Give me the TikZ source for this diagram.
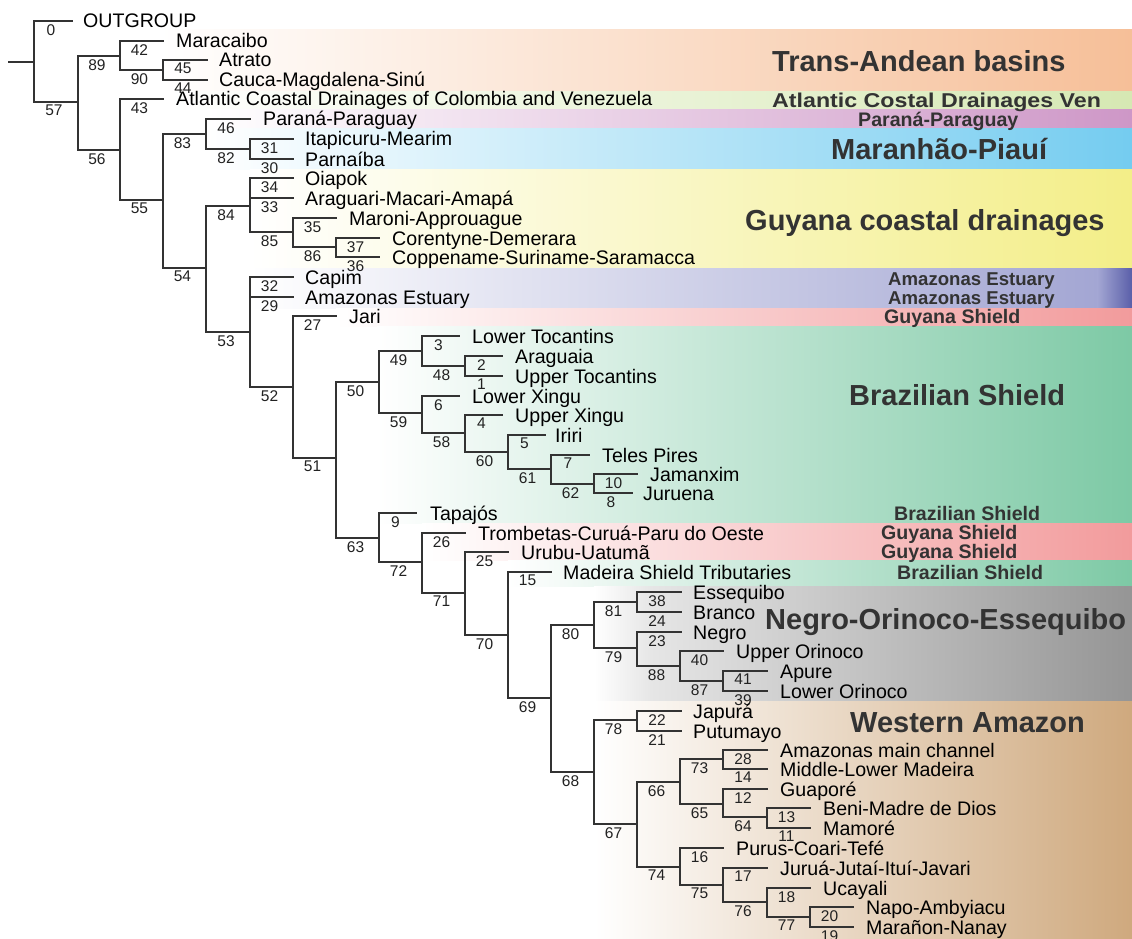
\documentclass[tikz,border=0pt]{standalone}
\usepackage{fontspec}
\setmainfont{Liberation Sans}
\usepackage{graphicx}

\definecolor{treeline}{HTML}{333333}
\definecolor{numtext}{HTML}{222222}
\definecolor{grptext}{HTML}{333333}
\definecolor{cTrans}{HTML}{F6BF98}
\definecolor{cAtl}{HTML}{D6E8B3}
\definecolor{cPara}{HTML}{CE97C7}
\definecolor{cMara}{HTML}{74CCF0}
\definecolor{cGuy}{HTML}{F3EE88}
\definecolor{cAmz}{HTML}{A3A6D3}
\definecolor{cAmzEdge}{HTML}{5A5FA9}
\definecolor{cGS}{HTML}{F29B9C}
\definecolor{cBS}{HTML}{7DC9A5}
\definecolor{cNOEa}{HTML}{E6E6E6}
\definecolor{cNOE}{HTML}{959595}
\definecolor{cWA}{HTML}{CFA97E}

% terminal branch: [gap]{parent}{name}{x,y}{support}{label}
\newcommand\leafbr[6][12.5]{%
  \coordinate (#3) at (#4);
  \draw[br] (#2 |- #3) -- node[num] (#3-n) {#5} (#3);
  \node[tiplab] (#3-t) at ([xshift=#1pt,yshift=-7pt]#3) {#6};
}
% internal branch: {parent}{name}{x,y}{support}
\newcommand\cladebr[4]{%
  \coordinate (#2) at (#3);
  \draw[br] (#1 |- #2) -- node[num] (#2-n) {#4} (#2);
}
% vertical bar joining the first and last child of a node
\newcommand\joinbar[3]{\draw[br] (#1 |- #2) -- (#1 |- #3);}

\begin{document}
\begin{tikzpicture}[x=1pt,y=-1pt,
  br/.style={draw=treeline,line width=1.4pt,line cap=rect},
  num/.style={font=\fontsize{15.5}{16}\selectfont,text=numtext,inner sep=0pt,
    anchor=north,xshift=-2pt,yshift=-2.5pt},
  tiplab/.style={font=\fontsize{19.6}{21}\selectfont,text=black,inner sep=0pt,anchor=base west},
  grpbig/.style={font=\fontsize{29}{30}\selectfont\bfseries,text=grptext,inner sep=0pt,anchor=base west},
  grpsmall/.style={font=\fontsize{19.6}{21}\selectfont\bfseries,text=grptext,inner sep=0pt,anchor=base west},
  grpam/.style={font=\fontsize{18.6}{20}\selectfont\bfseries,text=grptext,inner sep=0pt,anchor=base west}]

\useasboundingbox (0,0) rectangle (1132,939);
\fill[white] (0,0) rectangle (1132,939);

% ---- region bands ----
\shade[left color=white,right color=cTrans] (160,30) rectangle (1132,92);
\shade[left color=white,right color=cAtl] (163,92) rectangle (1132,110);
\shade[left color=white,right color=cPara] (207,110) rectangle (1132,129);
\shade[left color=white,right color=cMara] (207,129) rectangle (1132,169);
\shade[left color=white,right color=cGuy] (250,169) rectangle (1132,268);
\shade[left color=white,right color=cAmz] (250,268) rectangle (1098,308);
\shade[left color=cAmz,right color=cAmzEdge] (1097.5,268) rectangle (1132,308);
\shade[left color=white,right color=cGS] (336,308) rectangle (1132,326);
\shade[left color=white,right color=cBS] (377,326) rectangle (1132,523);
\shade[left color=white,right color=cGS] (422,523) rectangle (1132,560);
\shade[left color=white,right color=cBS] (508,560) rectangle (1132,586);
\shade[left color=white,right color=cNOEa] (594,586) rectangle (650.5,701);
\shade[left color=cNOEa,right color=cNOE] (650,586) rectangle (1132,701);
\shade[left color=white,right color=cWA] (594,701) rectangle (1132,939);

% ---- region labels ----
\node[grpbig] (g-trans) at (772,72) {Trans-Andean basins};
\node[grpsmall,font=\fontsize{20}{21}\selectfont\bfseries] (g-atl) at (772,107.5)
  {\scalebox{1.16}[1]{Atlantic Costal Drainages Ven}};
\node[grpsmall] (g-para) at (858,127) {Paraná-Paraguay};
\node[grpbig] (g-mara) at (831,159) {Maranhão-Piauí};
\node[grpbig] (g-guy) at (745,230) {Guyana coastal drainages};
\node[grpam] (g-ae1) at (888,285) {Amazonas Estuary};
\node[grpam] (g-ae2) at (888,304.5) {Amazonas Estuary};
\node[grpsmall] (g-gs1) at (884,323.5) {Guyana Shield};
\node[grpbig] (g-bs1) at (849,405) {Brazilian Shield};
\node[grpsmall] (g-bs2) at (894,520) {Brazilian Shield};
\node[grpsmall] (g-gs2) at (881,539.5) {Guyana Shield};
\node[grpsmall] (g-gs3) at (881,558.5) {Guyana Shield};
\node[grpsmall] (g-bs3) at (897,579) {Brazilian Shield};
\node[grpbig] (g-noe) at (765,629) {Negro-Orinoco-Essequibo};
\node[grpbig] (g-wa) at (850,732) {Western Amazon};

% ---- tree ----
\coordinate (stem) at (9,62);
\coordinate (root) at (34,62);
\draw[br] (stem) -- (root);
\leafbr[11]{root}{outg}{72,21}{0}{OUTGROUP}
\cladebr{root}{n57}{78,102}{57}
\joinbar{root}{outg}{n57}

\cladebr{n57}{n89}{120,56}{89}
\cladebr{n57}{n56}{120,150}{56}
\joinbar{n57}{n89}{n56}
\leafbr[13]{n89}{mara}{163,41}{42}{Maracaibo}
\cladebr{n89}{n90}{163,70}{90}
\joinbar{n89}{mara}{n90}
\leafbr[12]{n90}{atra}{207,60}{45}{Atrato}
\leafbr[12]{n90}{cauc}{207,80}{44}{Cauca-Magdalena-Sinú}
\joinbar{n90}{atra}{cauc}

\leafbr[13]{n56}{atla}{163,99}{43}{Atlantic Coastal Drainages of Colombia and Venezuela}
\cladebr{n56}{n55}{163,200}{55}
\joinbar{n56}{atla}{n55}
\cladebr{n55}{n83}{206,134}{83}
\cladebr{n55}{n54}{206,268}{54}
\joinbar{n55}{n83}{n54}
\leafbr[13]{n83}{papa}{250,119}{46}{Paraná-Paraguay}
\cladebr{n83}{n82}{250,149}{82}
\joinbar{n83}{papa}{n82}
\leafbr[12]{n82}{itap}{293,139}{31}{Itapicuru-Mearim}
\leafbr[12]{n82}{parn}{293,159}{30}{Parnaíba}
\joinbar{n82}{itap}{parn}

\cladebr{n54}{n84}{250,206}{84}
\cladebr{n54}{n53}{250,332}{53}
\joinbar{n54}{n84}{n53}
\leafbr[12]{n84}{oiap}{293,178}{34}{Oiapok}
\leafbr[12]{n84}{arag}{293,198}{33}{Araguari-Macari-Amapá}
\cladebr{n84}{n85}{293,232}{85}
\joinbar{n84}{oiap}{n85}
\leafbr[13]{n85}{maro}{336,218}{35}{Maroni-Approuague}
\cladebr{n85}{n86}{336,247}{86}
\joinbar{n85}{maro}{n86}
\leafbr[13]{n86}{core}{379,238}{37}{Corentyne-Demerara}
\leafbr[13]{n86}{copp}{379,257}{36}{Coppename-Suriname-Saramacca}
\joinbar{n86}{core}{copp}

\leafbr[12]{n53}{capi}{293,277}{32}{Capim}
\leafbr[12]{n53}{amze}{293,297}{29}{Amazonas Estuary}
\cladebr{n53}{n52}{293,387}{52}
\joinbar{n53}{capi}{n52}
\leafbr[13]{n52}{jari}{336,316}{27}{Jari}
\cladebr{n52}{n51}{336,458}{51}
\joinbar{n52}{jari}{n51}
\cladebr{n51}{n50}{379,382}{50}
\cladebr{n51}{n63}{379,538}{63}
\joinbar{n51}{n50}{n63}

\cladebr{n50}{n49}{422,351}{49}
\cladebr{n50}{n59}{422,413}{59}
\joinbar{n50}{n49}{n59}
\leafbr[13]{n49}{ltoc}{459,336}{3}{Lower Tocantins}
\cladebr{n49}{n48}{465,366}{48}
\joinbar{n49}{ltoc}{n48}
\leafbr[13]{n48}{arga}{502,356}{2}{Araguaia}
\leafbr[13]{n48}{utoc}{502,376}{1}{Upper Tocantins}
\joinbar{n48}{arga}{utoc}
\leafbr[13]{n59}{lxin}{459,396}{6}{Lower Xingu}
\cladebr{n59}{n58}{465,433}{58}
\joinbar{n59}{lxin}{n58}
\leafbr[13]{n58}{uxin}{502,415}{4}{Upper Xingu}
\cladebr{n58}{n60}{508,452}{60}
\joinbar{n58}{uxin}{n60}
\leafbr[10]{n60}{irir}{545,435}{5}{Iriri}
\cladebr{n60}{n61}{551,469}{61}
\joinbar{n60}{irir}{n61}
\leafbr[13]{n61}{tele}{589,455}{7}{Teles Pires}
\cladebr{n61}{n62}{594,484}{62}
\joinbar{n61}{tele}{n62}
\leafbr[13]{n62}{jama}{637,474}{10}{Jamanxim}
\leafbr[11]{n62}{juru}{632,493}{8}{Juruena}
\joinbar{n62}{jama}{juru}

\leafbr[14]{n63}{tapa}{416,513}{9}{Tapajós}
\cladebr{n63}{n72}{422,562}{72}
\joinbar{n63}{tapa}{n72}
\leafbr[13]{n72}{tromb}{465,533}{26}{Trombetas-Curuá-Paru do Oeste}
\cladebr{n72}{n71}{465,593}{71}
\joinbar{n72}{tromb}{n71}
\leafbr[13]{n71}{urub}{508,552}{25}{Urubu-Uatumã}
\cladebr{n71}{n70}{508,635}{70}
\joinbar{n71}{urub}{n70}
\leafbr[12]{n70}{made}{551,572}{15}{Madeira Shield Tributaries}
\cladebr{n70}{n69}{551,698}{69}
\joinbar{n70}{made}{n69}
\cladebr{n69}{n80}{594,625}{80}
\cladebr{n69}{n68}{594,772}{68}
\joinbar{n69}{n80}{n68}

\cladebr{n80}{n81}{637,602}{81}
\cladebr{n80}{n79}{637,648}{79}
\joinbar{n80}{n81}{n79}
\leafbr[12]{n81}{esse}{681,592}{38}{Essequibo}
\leafbr[12]{n81}{bran}{681,612}{24}{Branco}
\joinbar{n81}{esse}{bran}
\leafbr[12]{n79}{negr}{681,632}{23}{Negro}
\cladebr{n79}{n88}{680,666}{88}
\joinbar{n79}{negr}{n88}
\leafbr[13]{n88}{uori}{723,651}{40}{Upper Orinoco}
\cladebr{n88}{n87}{723,681}{87}
\joinbar{n88}{uori}{n87}
\leafbr[13]{n87}{apur}{767,671}{41}{Apure}
\leafbr[13]{n87}{lori}{767,691}{39}{Lower Orinoco}
\joinbar{n87}{apur}{lori}

\cladebr{n68}{n78}{637,720}{78}
\cladebr{n68}{n67}{637,824}{67}
\joinbar{n68}{n78}{n67}
\leafbr[12]{n78}{japu}{681,711}{22}{Japurá}
\leafbr[12]{n78}{putu}{681,731}{21}{Putumayo}
\joinbar{n78}{japu}{putu}
\cladebr{n67}{n66}{680,782}{66}
\cladebr{n67}{n74}{680,867}{74}
\joinbar{n67}{n66}{n74}
\cladebr{n66}{n73}{723,759}{73}
\cladebr{n66}{n65}{723,804}{65}
\joinbar{n66}{n73}{n65}
\leafbr[13]{n73}{amzm}{767,750}{28}{Amazonas main channel}
\leafbr[13]{n73}{mlma}{767,769}{14}{Middle-Lower Madeira}
\joinbar{n73}{amzm}{mlma}
\leafbr[13]{n65}{guap}{767,789}{12}{Guaporé}
\cladebr{n65}{n64}{767,817}{64}
\joinbar{n65}{guap}{n64}
\leafbr[13]{n64}{beni}{810,808}{13}{Beni-Madre de Dios}
\leafbr[13]{n64}{mamo}{810,828}{11}{Mamoré}
\joinbar{n64}{beni}{mamo}
\leafbr[13]{n74}{puru}{723,848}{16}{Purus-Coari-Tefé}
\cladebr{n74}{n75}{723,885}{75}
\joinbar{n74}{puru}{n75}
\leafbr[13]{n75}{jrua}{767,868}{17}{Juruá-Jutaí-Ituí-Javari}
\cladebr{n75}{n76}{767,902}{76}
\joinbar{n75}{jrua}{n76}
\leafbr[13]{n76}{ucay}{810,888}{18}{Ucayali}
\cladebr{n76}{n77}{810,917}{77}
\joinbar{n76}{ucay}{n77}
\leafbr[13]{n77}{napo}{853,907}{20}{Napo-Ambyiacu}
\leafbr[13]{n77}{mrnn}{853,927}{19}{Marañon-Nanay}
\joinbar{n77}{napo}{mrnn}
\end{tikzpicture}
\end{document}
